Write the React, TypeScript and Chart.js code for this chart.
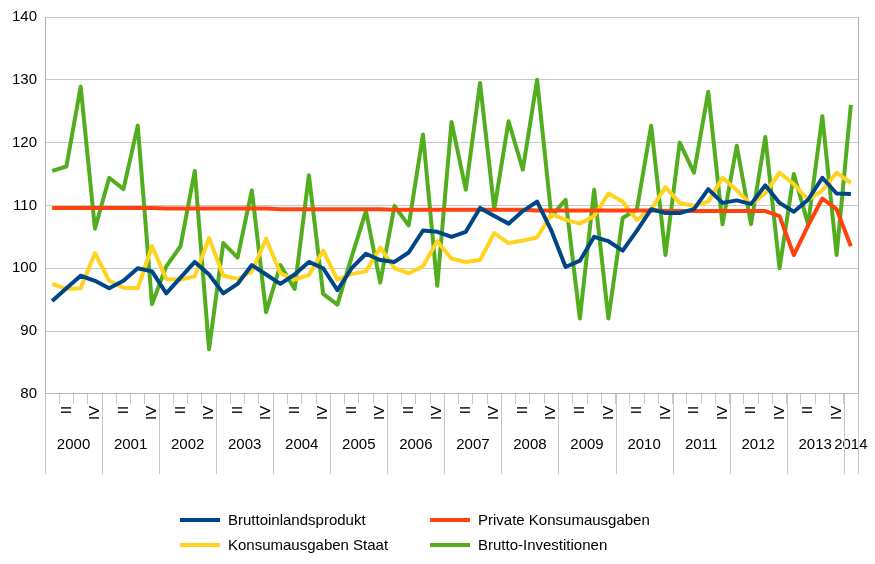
import React, { useEffect, useRef } from "react";
import { Chart, registerables } from "chart.js";
Chart.register(...registerables);

const years = ["2000","2001","2002","2003","2004","2005","2006","2007","2008","2009","2010","2011","2012","2013","2014"];
const quarterLabels = ["", "II", "", "IV"];

const bip = [94.8,96.8,98.8,98,96.8,98,100,99.5,96,98.5,101,99,96,97.5,100.5,99,97.5,99,101,100,96.5,100,102.3,101.3,101,102.5,106,105.8,105,105.8,109.6,108.3,107.1,109.1,110.6,106,100.2,101.2,105,104.3,102.8,106,109.4,108.8,108.8,109.4,112.6,110.4,110.8,110.2,113.2,110.4,109,110.9,114.4,111.9,111.8];
const privat = [109.6,109.6,109.6,109.6,109.6,109.6,109.6,109.6,109.5,109.5,109.5,109.5,109.5,109.5,109.5,109.5,109.4,109.4,109.4,109.4,109.4,109.4,109.4,109.4,109.3,109.3,109.3,109.3,109.3,109.3,109.3,109.3,109.3,109.3,109.2,109.2,109.2,109.2,109.2,109.2,109.2,109.2,109.2,109.1,109.1,109.1,109.1,109.1,109.1,109.1,109.1,108.3,102.1,106.8,111.1,109.4,103.5];
const staat = [97.5,96.7,96.8,102.4,98,96.9,96.8,103.5,98.3,98.2,98.7,104.8,98.8,98.3,99.5,104.7,99.2,98.2,98.9,102.8,98.2,99.1,99.5,103.3,100,99.2,100.3,104.3,101.5,101,101.3,105.6,104,104.4,104.9,108.6,107.7,107.1,108.3,111.9,110.6,107.7,109.4,112.9,110.4,109.9,110.6,114.4,112.4,110.2,111.9,115.2,113.4,110.9,112.4,115.2,113.6];
const invest = [115.5,116.2,128.9,106.3,114.4,112.6,122.7,94.3,100.3,103.5,115.5,87.1,104,101.7,112.4,93,100.5,96.7,114.8,95.9,94.2,101.8,109.1,97.7,109.9,106.8,121.3,97.2,123.3,112.5,129.5,109.4,123.4,115.7,130,108.3,110.9,92,112.5,92,108,109.4,122.7,102.1,120,115.2,128.1,107,119.5,107,120.9,100,115,107,124.2,102.1,126];

const seriesNames = ["Bruttoinlandsprodukt", "Private Konsumausgaben", "Konsumausgaben Staat", "Brutto-Investitionen"];
const seriesColors = ["#004586", "#ff420e", "#ffd320", "#52ae1f"];

const labels: string[] = bip.map((_, i) => quarterLabels[i % 4]);

export default function App() {
  const ref = useRef<HTMLCanvasElement>(null);
  useEffect(() => {
    document.body.style.margin = "0";
    const n = labels.length;
    const boundaries: number[] = [];
    const centers: number[] = [];
    years.forEach((_, k) => {
      const start = k * 4;
      const end = Math.min(start + 4, n);
      boundaries.push(start - 0.5);
      centers.push((start + end - 1) / 2);
    });
    boundaries.push(n - 0.5);
    const font = { family: "Liberation Sans", size: 15 };
    const yearLines = {
      id: "yearLines",
      afterDraw(chart: any) {
        const x2 = chart.scales.x2;
        const ctx = chart.ctx;
        ctx.save();
        ctx.strokeStyle = "#c8c8c8";
        ctx.lineWidth = 1;
        boundaries.forEach((b) => {
          const px = Math.round(x2.getPixelForValue(b)) + 0.5;
          ctx.beginPath();
          ctx.moveTo(px, chart.chartArea.bottom);
          ctx.lineTo(px, x2.bottom + 14);
          ctx.stroke();
        });
        ctx.restore();
      },
    };
    const data = [bip, privat, staat, invest];
    const chart = new Chart(ref.current!, {
      type: "line",
      data: {
        labels,
        datasets: data.map((d, i) => ({
          label: seriesNames[i],
          data: d,
          borderColor: seriesColors[i],
          backgroundColor: seriesColors[i],
        })),
      },
      options: {
        animation: false,
        responsive: false,
        maintainAspectRatio: false,
        layout: { padding: { left: 4, right: 17, top: 0, bottom: 104 } },
        elements: { line: { borderWidth: 4, tension: 0, borderJoinStyle: "round" }, point: { radius: 0 } },
        plugins: { tooltip: { enabled: false }, legend: { display: false } },
        scales: {
          x: {
            type: "category",
            offset: true,
            grid: { offset: true, drawOnChartArea: false, color: "#c8c8c8", tickLength: 10 },
            border: { color: "#b3b3b3" },
            ticks: { autoSkip: false, maxRotation: 90, minRotation: 90, font, color: "#000", padding: 2 },
          },
          x2: {
            type: "linear",
            position: "bottom",
            min: -0.5,
            max: n - 0.5,
            afterBuildTicks: (axis: any) => {
              axis.ticks = centers.map((v) => ({ value: v }));
            },
            grid: { display: false },
            border: { display: false },
            ticks: {
              autoSkip: false,
              maxRotation: 0,
              font,
              color: "#000",
              padding: 6,
              callback: (v: any) => {
                const k = centers.indexOf(Number(v));
                return k >= 0 ? years[k] : "";
              },
            },
          },
          y: {
            min: 80,
            max: 140,
            ticks: { stepSize: 10, font, color: "#000", padding: 8 },
            grid: { color: "#c8c8c8", tickLength: 0 },
            border: { color: "#b3b3b3" },
          },
          y2: {
            position: "right",
            min: 80,
            max: 140,
            ticks: { display: false },
            grid: { drawOnChartArea: false, tickLength: 0 },
            border: { color: "#b3b3b3" },
          },
        },
      },
      plugins: [yearLines],
    } as any);
    return () => chart.destroy();
  }, []);
  const item = (i: number, left: number, top: number) => (
    <div key={i} style={{ position: "absolute", left, top, display: "flex", alignItems: "center", fontFamily: "Liberation Sans", fontSize: 15, color: "#000", whiteSpace: "nowrap" }}>
      <span style={{ display: "inline-block", width: 40, height: 4, background: seriesColors[i], marginRight: 8 }} />
      {seriesNames[i]}
    </div>
  );
  return (
    <div style={{ position: "relative", width: 875, height: 564 }}>
      <canvas ref={ref} width={875} height={564} style={{ display: "block" }} />
      {item(0, 180, 511)}
      {item(1, 430, 511)}
      {item(2, 180, 536)}
      {item(3, 430, 536)}
    </div>
  );
}
